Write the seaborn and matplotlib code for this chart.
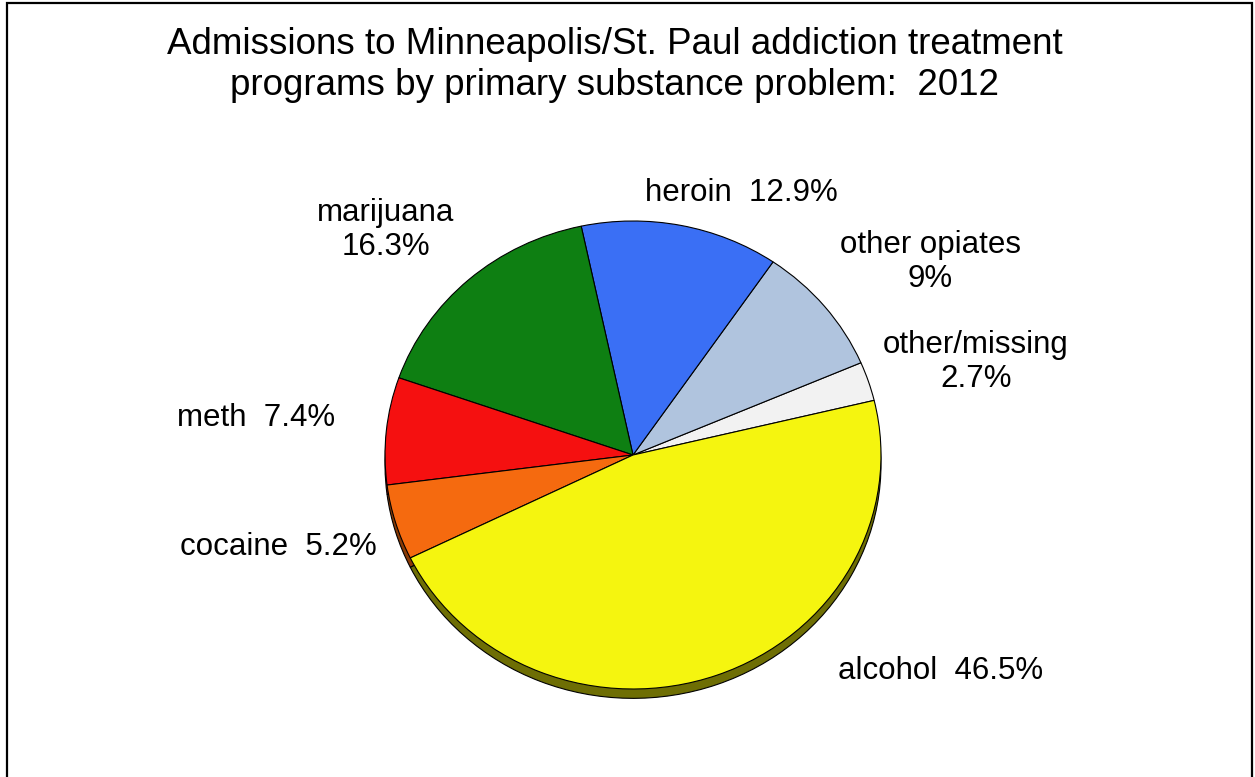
import matplotlib
matplotlib.use("Agg")
import matplotlib.pyplot as plt
import matplotlib.patches as mpatches
import seaborn as sns

# slice data, counterclockwise from the right edge
substances = ["other/missing", "other opiates", "heroin", "marijuana", "meth", "cocaine", "alcohol"]
shares = [2.7, 9.0, 12.9, 16.3, 7.4, 5.2, 46.5]
label_texts = ["other/missing\n2.7%", "other opiates\n9%", "heroin  12.9%",
               "marijuana\n16.3%", "meth  7.4%", "cocaine  5.2%", "alcohol  46.5%"]
top_colors = ["#f2f2f2", "#b0c4de", "#3a6ff5", "#0e7f12", "#f51010", "#f56a0f", "#f5f50f"]
side_colors = ["#9a9a9a", "#6f7d90", "#223f8c", "#064a08", "#8a0808", "#8a3a05", "#6e6e04"]

title = "Admissions to Minneapolis/St. Paul addiction treatment\nprograms by primary substance problem:  2012"

sns.set_theme(style="white")
plt.rcParams["font.family"] = ["Liberation Sans", "DejaVu Sans"]
plt.rcParams["text.color"] = "black"

W, H = 1255, 777
fig = plt.figure(figsize=(W / 100, H / 100), dpi=100)

# pie geometry in pixels
cx, cy, rx, ry = 633, 455, 248, 234
pad = 1.2
ax = fig.add_axes([(cx - rx * pad) / W, (H - cy - ry * pad) / H,
                   2 * rx * pad / W, 2 * ry * pad / H])

# where each label sits, in pie (radius = 1) units
label_pos = [((976 - cx) / rx, (cy - 362) / ry), ((930 - cx) / rx, (cy - 262) / ry),
             ((741 - cx) / rx, (cy - 193) / ry), ((386 - cx) / rx, (cy - 230) / ry),
             ((256 - cx) / rx, (cy - 418) / ry), ((278 - cx) / rx, (cy - 547) / ry),
             ((941 - cx) / rx, (cy - 671) / ry)]

start = 13.5
# extruded side of the tilted pie
ax.pie(shares, colors=side_colors, startangle=start, counterclock=True,
       center=(0, -0.04), radius=1.0,
       wedgeprops=dict(edgecolor="black", linewidth=0.8))
ax.pie(shares, colors=top_colors, startangle=start, counterclock=True,
       center=(0, 0), radius=1.0,
       wedgeprops=dict(edgecolor="black", linewidth=0.8))
ax.set_aspect("auto")
ax.set_xlim(-pad, pad)
ax.set_ylim(-pad, pad)
ax.axis("off")

for txt, (x, y) in zip(label_texts, label_pos):
    ax.text(x, y, txt, ha="center", va="center", fontsize=22.5,
            linespacing=1.2, color="black")

fig.text(615 / W, 1 - 65 / H, title, ha="center", va="center",
         fontsize=26.5, linespacing=1.2, color="black")

# frame around the slide
frame = mpatches.Rectangle((7 / W, -0.05), (1252 - 7) / W, 1.05 - 3 / H,
                           transform=fig.transFigure, fill=False,
                           edgecolor="black", linewidth=1.6, clip_on=False)
fig.patches.append(frame)

fig.savefig("out.png", dpi=100)
